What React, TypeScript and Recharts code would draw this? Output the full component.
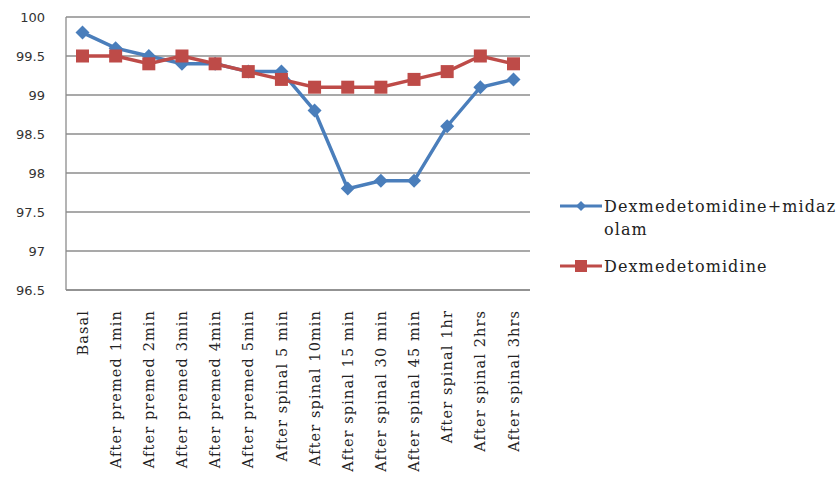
import { LineChart, Line, XAxis, YAxis, CartesianGrid } from 'recharts';

document.body.style.margin = '0';

const categories = [
  'Basal',
  'After premed 1min',
  'After premed 2min',
  'After premed 3min',
  'After premed 4min',
  'After premed 5min',
  'After spinal 5 min',
  'After spinal 10min',
  'After spinal 15 min',
  'After spinal 30 min',
  'After spinal 45 min',
  'After spinal 1hr',
  'After spinal 2hrs',
  'After spinal 3hrs',
];

const comboValues = [99.8, 99.6, 99.5, 99.4, 99.4, 99.3, 99.3, 98.8, 97.8, 97.9, 97.9, 98.6, 99.1, 99.2];
const dexValues = [99.5, 99.5, 99.4, 99.5, 99.4, 99.3, 99.2, 99.1, 99.1, 99.1, 99.2, 99.3, 99.5, 99.4];

const yTicks = [96.5, 97, 97.5, 98, 98.5, 99, 99.5, 100];

const seriesNames = ['Dexmedetomidine+midazolam', 'Dexmedetomidine'];

const BLUE = '#4a7ebb';
const RED = '#be4b48';
const GRID = '#8c8c8c';
const SERIF = '"DejaVu Serif", serif';

const data = categories.map((name, i) => ({
  name,
  combo: comboValues[i],
  dex: dexValues[i],
}));

const Diamond = (props: any) => {
  const { cx, cy } = props;
  if (cx == null || cy == null) return null;
  const r = 7;
  return (
    <polygon
      points={`${cx},${cy - r} ${cx + r},${cy} ${cx},${cy + r} ${cx - r},${cy}`}
      fill={BLUE}
    />
  );
};

const Square = (props: any) => {
  const { cx, cy } = props;
  if (cx == null || cy == null) return null;
  const s = 13;
  return <rect x={cx - s / 2} y={cy - s / 2} width={s} height={s} fill={RED} />;
};

const XTick = (props: any) => {
  const { x, y, payload } = props;
  return (
    <text
      transform={`translate(${x},${y + 12}) rotate(-90)`}
      textAnchor="end"
      dy="0.35em"
      fontFamily={SERIF}
      fontSize={14.5}
      letterSpacing={1.1}
      fill="#222"
    >
      {payload.value}
    </text>
  );
};

const LegendItem = ({ color, square, label }: { color: string; square: boolean; label: string }) => (
  <div style={{ display: 'flex', alignItems: 'flex-start', marginBottom: 14 }}>
    <svg width={46} height={22} style={{ flex: 'none' }}>
      <line x1={2} y1={11} x2={44} y2={11} stroke={color} strokeWidth={3} />
      {square ? (
        <rect x={17} y={5} width={12} height={12} fill={color} />
      ) : (
        <polygon points="23,6 28,11 23,16 18,11" fill={color} />
      )}
    </svg>
    <div
      style={{
        fontFamily: SERIF,
        fontSize: 16,
        letterSpacing: 1.1,
        lineHeight: '23px',
        color: '#222',
        width: 236,
        wordBreak: 'break-all',
      }}
    >
      {label}
    </div>
  </div>
);

export default function App() {
  return (
    <div style={{ position: 'relative', width: 840, height: 487, background: '#fff' }}>
      <LineChart width={840} height={487} data={data} margin={{ top: 17, right: 310, bottom: 0, left: 0 }}>
        <CartesianGrid vertical={false} stroke={GRID} strokeWidth={1.3} />
        <XAxis
          dataKey="name"
          interval={0}
          height={197}
          padding={{ left: 16.5, right: 16.5 }}
          tick={<XTick />}
          tickLine={false}
          axisLine={{ stroke: GRID, strokeWidth: 1.3 }}
        />
        <YAxis
          domain={[96.5, 100]}
          ticks={yTicks}
          width={66}
          tickLine={false}
          tickSize={0}
          tickMargin={21}
          axisLine={{ stroke: GRID, strokeWidth: 1.3 }}
          tick={{ fontFamily: '"DejaVu Sans", sans-serif', fontSize: 13, fill: '#333' }}
        />
        <Line
          dataKey="combo"
          name={seriesNames[0]}
          stroke={BLUE}
          strokeWidth={3.5}
          dot={<Diamond />}
          isAnimationActive={false}
        />
        <Line
          dataKey="dex"
          name={seriesNames[1]}
          stroke={RED}
          strokeWidth={3.5}
          dot={<Square />}
          isAnimationActive={false}
        />
      </LineChart>
      <div style={{ position: 'absolute', left: 558, top: 195 }}>
        <LegendItem color={BLUE} square={false} label={seriesNames[0]} />
        <LegendItem color={RED} square={true} label={seriesNames[1]} />
      </div>
    </div>
  );
}
